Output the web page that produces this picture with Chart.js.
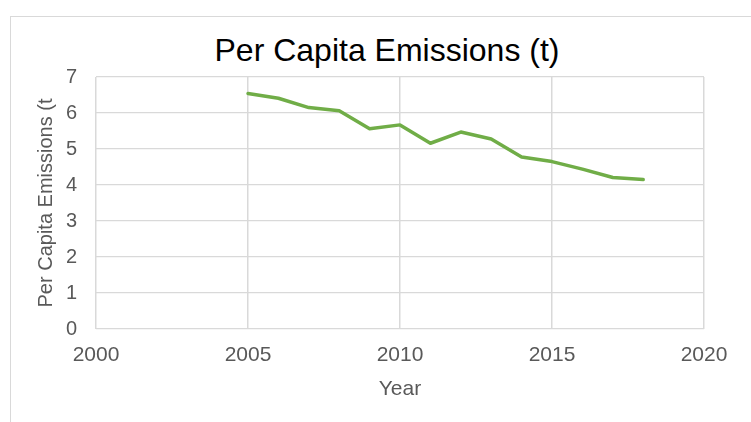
<!DOCTYPE html>
<html>
<head>
<meta charset="utf-8">
<script src="https://cdn.jsdelivr.net/npm/chart.js@4"></script>
<style>
  html, body { margin: 0; padding: 0; background: #fff; overflow: hidden; }
  #wrap { position: relative; width: 751px; height: 422px; }
  #frame { position: absolute; left: 10px; top: 16px; width: 800px; height: 500px; border: 1px solid #d9d9d9; box-sizing: border-box; }
  #title { position: absolute; left: 0; width: 774px; top: 34px; text-align: center; font-family: "Liberation Sans", Arial, sans-serif; font-size: 32px; line-height: 1; color: #000; white-space: nowrap; }
  canvas { position: absolute; left: 0; top: 0; }
</style>
</head>
<body>
<div id="wrap">
  <div id="frame"></div>
  <div id="title">Per Capita Emissions (t)</div>
  <canvas id="c" width="751" height="422"></canvas>
</div>
<script>
const years = [2005, 2006, 2007, 2008, 2009, 2010, 2011, 2012, 2013, 2014, 2015, 2016, 2017, 2018];
const emissions = [6.54, 6.41, 6.15, 6.06, 5.56, 5.67, 5.16, 5.47, 5.28, 4.78, 4.65, 4.44, 4.21, 4.15];
const xTickYears = [2000, 2005, 2010, 2015, 2020];
const yTickValues = [0, 1, 2, 3, 4, 5, 6, 7];
const xAxisTitle = "Year";
const yAxisTitle = "Per Capita Emissions (t";

const points = years.map((y, i) => ({ x: y, y: emissions[i] }));
const FONT = "'Liberation Sans', Arial, sans-serif";

new Chart(document.getElementById('c'), {
  type: 'line',
  data: {
    datasets: [{
      data: points,
      borderColor: '#70ad47',
      backgroundColor: '#70ad47',
      borderWidth: 3.5,
      pointRadius: 0,
      tension: 0,
      borderJoinStyle: 'round',
      borderCapStyle: 'round'
    }]
  },
  options: {
    responsive: false,
    animation: false,
    devicePixelRatio: 1,
    layout: { padding: { left: 0, top: 77, right: 47, bottom: 0 } },
    plugins: { legend: { display: false }, title: { display: false }, tooltip: { enabled: false } },
    scales: {
      x: {
        type: 'linear',
        min: xTickYears[0],
        max: xTickYears[xTickYears.length - 1],
        afterBuildTicks: s => { s.ticks = xTickYears.map(v => ({ value: v })); },
        afterFit: s => { s.height = 93; },
        ticks: { color: '#595959', font: { family: FONT, size: 21 }, padding: 14, maxRotation: 0, callback: v => String(v) },
        grid: { color: '#d9d9d9', lineWidth: 1.5, drawTicks: false },
        border: { display: false },
        title: { display: true, text: xAxisTitle, color: '#595959', font: { family: FONT, size: 21 }, padding: { top: 0, bottom: 20 } }
      },
      y: {
        min: 0,
        max: 7,
        afterBuildTicks: s => { s.ticks = yTickValues.map(v => ({ value: v })); },
        afterFit: s => { s.width = 96; },
        ticks: { color: '#595959', font: { family: FONT, size: 20 }, padding: 19 },
        grid: { color: '#d9d9d9', lineWidth: 1.3, drawTicks: false },
        border: { display: false },
        title: { display: true, text: yAxisTitle, color: '#595959', font: { family: FONT, size: 20 }, padding: { top: 34, bottom: 0 } }
      }
    }
  }
});
</script>
</body>
</html>
